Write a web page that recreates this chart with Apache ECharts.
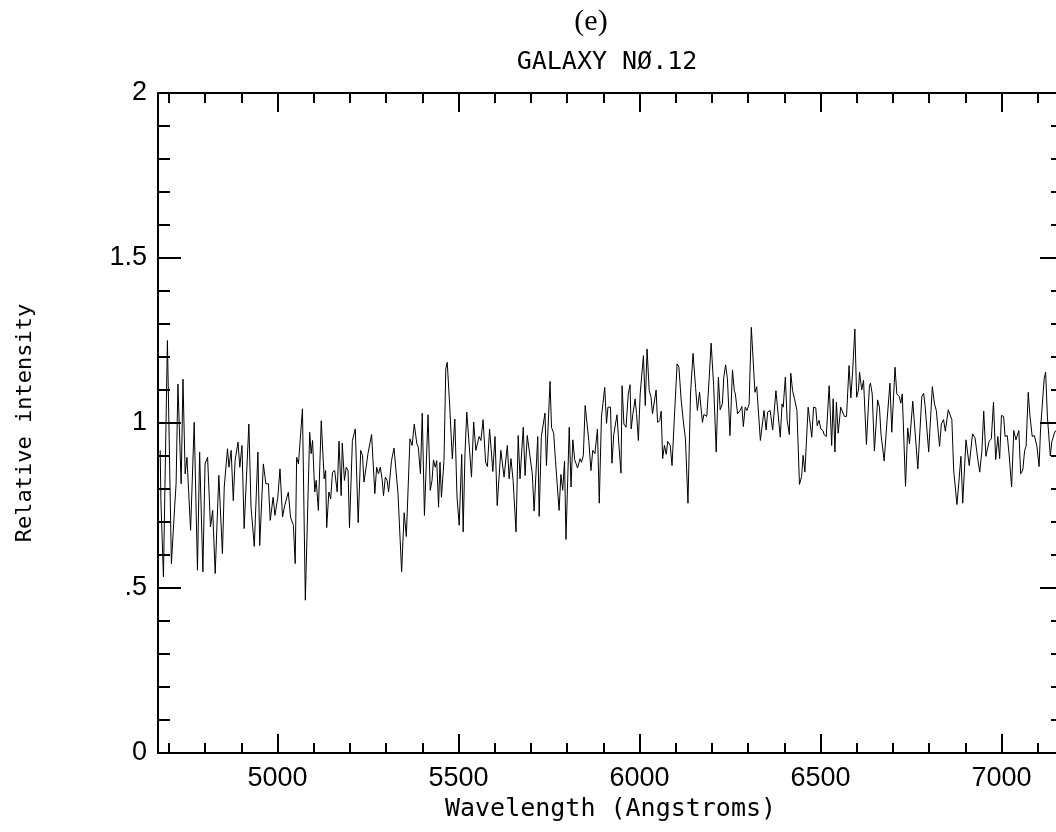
<!DOCTYPE html>
<html>
<head>
<meta charset="utf-8">
<script src="https://cdn.jsdelivr.net/npm/echarts@6/dist/echarts.min.js"></script>
<style>
  html, body { margin: 0; padding: 0; background: #fff; }
  #chart { width: 1056px; height: 832px; }
</style>
</head>
<body>
<div id="chart"></div>
<script>
// spectrum (wavelength in Angstroms, relative intensity)
const wavelength = [
  4676, 4678, 4685, 4696, 4707, 4716, 4720, 4725, 4734, 4739, 4745, 4750, 4760, 4770, 4779, 4785,
  4794, 4800, 4807, 4815, 4821, 4828, 4838, 4848, 4853, 4858, 4862, 4866, 4872, 4878, 4883, 4891,
  4896, 4902, 4908, 4912, 4921, 4927, 4936, 4946, 4951, 4961, 4968, 4975, 4980, 4988, 4993, 5001,
  5007, 5014, 5020, 5025, 5030, 5036, 5044, 5049, 5053, 5058, 5069, 5077,
  5089, 5093, 5097, 5103, 5107, 5113, 5121, 5129, 5133, 5136, 5142, 5147, 5152, 5158, 5165, 5170,
  5176, 5179, 5185, 5190, 5195, 5199, 5207, 5215, 5223, 5230, 5235, 5239, 5245, 5250, 5255, 5260,
  5269, 5274, 5279, 5284, 5289, 5293, 5298, 5303, 5307, 5315, 5322, 5333, 5343, 5350, 5356, 5366,
  5372, 5378, 5385, 5389, 5395, 5400, 5406, 5416, 5422, 5427, 5431, 5436, 5440, 5445, 5449, 5453,
  5460, 5465, 5469, 5476, 5483, 5490,
  5496, 5502, 5509, 5513, 5518, 5523, 5527, 5536, 5542, 5548, 5557, 5562, 5568, 5575, 5580, 5586,
  5595, 5601, 5607, 5610, 5617, 5626, 5635, 5640, 5645, 5651, 5659, 5665, 5670, 5679, 5684, 5690,
  5696, 5704, 5709, 5719, 5723, 5729, 5734, 5739, 5743, 5753, 5757, 5763, 5768, 5778, 5783, 5788,
  5793, 5797, 5806, 5811, 5816, 5821, 5829, 5836, 5840, 5845, 5850, 5854, 5860, 5866, 5871, 5877,
  5884, 5889, 5895,
  5904, 5909, 5913, 5920, 5924, 5929, 5934, 5938, 5943, 5949, 5952, 5957, 5963, 5969, 5974, 5977,
  5982, 5988, 5992, 5997, 6002, 6006, 6011, 6016, 6021, 6027, 6032, 6036, 6046, 6050, 6056, 6060,
  6064, 6069, 6074, 6078, 6085, 6090, 6096, 6104, 6109, 6115, 6121, 6127, 6134, 6141, 6148, 6155,
  6160, 6166, 6174, 6178, 6186, 6192, 6198, 6205, 6212, 6218, 6223, 6229, 6233, 6238, 6243, 6250,
  6257, 6262, 6265, 6271, 6278, 6283, 6287, 6292, 6297, 6303, 6305,
  6309, 6319, 6324, 6334, 6344, 6350, 6354, 6361, 6368, 6377, 6389, 6394, 6397, 6403, 6408, 6414,
  6418, 6423, 6429, 6435, 6442, 6448, 6452, 6457, 6466, 6476, 6481, 6487, 6491, 6496, 6501, 6507,
  6510, 6516, 6524, 6531, 6535, 6540, 6544, 6549, 6556, 6561, 6566, 6572, 6579, 6584, 6589, 6595,
  6600, 6605, 6608, 6614, 6619, 6627, 6635, 6638, 6643, 6649, 6658, 6663, 6667, 6672, 6676, 6684,
  6692, 6697, 6706, 6711,
  6718, 6722, 6726, 6735, 6741, 6746, 6755, 6769, 6780, 6785, 6789, 6793, 6799, 6809, 6815, 6820,
  6829, 6834, 6840, 6845, 6853, 6863, 6868, 6877, 6882, 6888, 6893, 6902, 6906, 6911, 6920, 6927,
  6935, 6940, 6946, 6951, 6957, 6962, 6966, 6972, 6978, 6984, 6990, 6995, 7000, 7006, 7010, 7016,
  7021, 7028, 7034, 7040, 7048, 7053, 7059, 7064, 7068, 7074, 7079, 7085, 7091, 7098, 7104, 7108,
  7113, 7118, 7122, 7127, 7132, 7135, 7139, 7148, 7165
];
const intensity = [
  0.917, 0.765, 0.534, 1.250, 0.574, 0.745, 0.816, 1.118, 0.816, 1.133, 0.846, 0.896, 0.675, 1.002, 0.554, 0.912,
  0.549, 0.876, 0.896, 0.685, 0.735, 0.544, 0.841, 0.604, 0.806, 0.801, 0.922, 0.866, 0.917, 0.765, 0.886, 0.942,
  0.866, 0.932, 0.680, 0.675, 0.997, 0.745, 0.626, 0.912, 0.629, 0.876, 0.816, 0.816, 0.705, 0.775, 0.720, 0.775,
  0.861, 0.715, 0.750, 0.745, 0.790, 0.715, 0.690, 0.574, 0.896, 0.876, 1.043, 0.463,
  0.972, 0.907, 0.947, 0.791, 0.826, 0.735, 1.007, 0.831, 0.856, 0.683, 0.791, 0.770, 0.851, 0.856, 0.791, 0.945,
  0.780, 0.939, 0.826, 0.866, 0.856, 0.683, 0.947, 0.982, 0.698, 0.917, 0.902, 0.821, 0.866, 0.907, 0.907, 0.965,
  0.786, 0.866, 0.846, 0.866, 0.831, 0.780, 0.836, 0.826, 0.791, 0.886, 0.924, 0.786, 0.549, 0.728, 0.656, 0.952,
  0.932, 0.997, 0.937, 0.927, 0.846, 1.030, 0.720, 1.025, 0.796, 0.826, 0.888, 0.866, 0.886, 0.745, 0.881, 0.775,
  0.886, 1.164, 1.184, 1.048, 0.891, 1.012,
  0.776, 0.690, 0.905, 0.670, 0.907, 1.033, 1.038, 0.836, 1.003, 0.917, 0.959, 0.947, 1.010, 0.881, 0.868, 0.982,
  0.853, 0.959, 0.750, 0.752, 0.917, 0.836, 0.932, 0.831, 0.892, 0.826, 0.670, 0.962, 0.831, 0.987, 0.841, 0.962,
  0.912, 0.846, 0.733, 0.959, 0.717, 0.959, 0.957, 1.030, 0.871, 1.126, 0.987, 0.969, 0.887, 0.735, 0.844, 0.796,
  0.885, 0.647, 0.987, 0.806, 0.949, 0.889, 0.864, 0.892, 0.881, 0.902, 1.053, 1.050, 0.947, 0.856, 0.917, 0.907,
  0.982, 0.757, 1.018,
  1.108, 0.999, 1.048, 1.048, 0.878, 0.965, 0.962, 1.025, 0.937, 0.848, 1.113, 0.997, 0.987, 1.088, 1.116, 0.982,
  1.028, 1.073, 1.028, 0.947, 1.088, 1.090, 1.204, 1.053, 1.224, 1.098, 1.078, 1.028, 1.100, 1.002, 1.007, 1.036,
  0.892, 0.932, 0.905, 0.944, 0.932, 0.871, 1.007, 1.179, 1.169, 1.073, 1.007, 0.952, 0.757, 1.088, 1.211, 1.108,
  1.038, 1.093, 1.002, 1.026, 1.020, 1.124, 1.242, 1.113, 0.912, 1.139, 1.040, 1.058, 1.139, 1.176, 1.134, 0.962,
  1.161, 1.098, 1.088, 1.028, 1.038, 1.050, 0.989, 1.048, 1.038, 1.058, 1.139,
  1.290, 1.093, 1.110, 0.947, 1.038, 0.979, 1.033, 1.038, 0.979, 1.098, 0.957, 1.058, 1.048, 1.139, 1.008, 0.965,
  1.151, 1.098, 1.070, 1.038, 0.814, 0.838, 0.902, 0.851, 1.048, 0.957, 1.048, 1.046, 0.992, 1.008, 0.982, 0.977,
  0.965, 0.959, 1.113, 0.932, 1.073, 0.912, 1.063, 0.969, 1.048, 1.053, 1.020, 1.020, 1.174, 1.076, 1.159, 1.285,
  1.078, 1.100, 1.154, 1.100, 1.129, 0.935, 1.108, 1.121, 1.088, 0.915, 1.070, 1.048, 0.969, 0.967, 0.885, 1.008,
  1.121, 0.972, 1.169, 1.088,
  1.080, 1.060, 1.088, 0.808, 0.985, 0.937, 1.066, 0.861, 1.080, 1.090, 1.053, 1.053, 0.912, 1.110, 1.058, 1.038,
  0.929, 0.998, 1.010, 0.975, 1.040, 1.010, 0.856, 0.753, 0.816, 0.899, 0.757, 0.949, 0.945, 0.871, 0.967, 0.955,
  0.887, 0.851, 0.917, 1.036, 0.899, 0.899, 0.945, 0.952, 1.063, 0.889, 0.959, 0.892, 1.023, 1.020, 0.959, 0.962,
  0.907, 0.806, 0.977, 0.949, 0.977, 0.846, 0.858, 0.917, 0.929, 1.093, 1.018, 0.959, 0.962, 0.929, 0.868, 0.982,
  0.987, 1.134, 1.154, 1.018, 1.016, 0.900, 0.943, 0.975, 0.980
];

const xMinorTicks = [4700, 4800, 4900, 5000, 5100, 5200, 5300, 5400, 5500, 5600, 5700, 5800, 5900,
  6000, 6100, 6200, 6300, 6400, 6500, 6600, 6700, 6800, 6900, 7000, 7100];
const xMajorTicks = [5000, 5500, 6000, 6500, 7000];
const yMinorTicks = [0.1, 0.2, 0.3, 0.4, 0.6, 0.7, 0.8, 0.9, 1.1, 1.2, 1.3, 1.4, 1.6, 1.7, 1.8, 1.9];
const yMajorTicks = [0, 0.5, 1, 1.5, 2];
const yTickLabels = ["0", ".5", "1", "1.5", "2"];

const chart = echarts.init(document.getElementById("chart"));

const black = "#000";
const numFont = "Liberation Sans";
const monoFont = "DejaVu Sans Mono";

// one axis per tick length / side (PGPLOT style box with inward ticks)
const xAx = (pos, ticks, len, showLine, labels) => ({
  type: "value",
  position: pos,
  min: 4670,
  max: 7170,
  splitLine: { show: false },
  axisLine: { show: showLine, onZero: false, lineStyle: { color: black, width: 2 } },
  axisTick: { show: true, inside: true, length: len, customValues: ticks, lineStyle: { color: black, width: 2 } },
  axisLabel: labels
    ? {
        show: true,
        customValues: labels,
        margin: 12,
        color: black,
        fontFamily: numFont,
        fontSize: 27,
        formatter: (v) => String(v),
      }
    : { show: false },
});
const yAx = (pos, ticks, len, showLine, labels) => ({
  type: "value",
  position: pos,
  min: 0,
  max: 2,
  splitLine: { show: false },
  axisLine: { show: showLine, onZero: false, lineStyle: { color: black, width: 2 } },
  axisTick: { show: true, inside: true, length: len, customValues: ticks, lineStyle: { color: black, width: 2 } },
  axisLabel: labels
    ? {
        show: true,
        customValues: labels,
        margin: 11,
        color: black,
        fontFamily: numFont,
        fontSize: 27,
        formatter: (v) => {
          const i = yMajorTicks.findIndex((t) => Math.abs(t - v) < 1e-6);
          return i >= 0 ? yTickLabels[i] : String(v);
        },
      }
    : { show: false },
});

const xBottom = xAx("bottom", xMinorTicks, 10, true, xMajorTicks);
xBottom.name = "Wavelength (Angstroms)";
xBottom.nameLocation = "middle";
xBottom.nameGap = 33;
xBottom.nameTextStyle = { color: black, fontFamily: monoFont, fontSize: 25 };

const yLeft = yAx("left", yMinorTicks, 12, true, yMajorTicks);
yLeft.name = "Relative intensity";
yLeft.nameLocation = "middle";
yLeft.nameGap = 122;
yLeft.nameTextStyle = { color: black, fontFamily: monoFont, fontSize: 22 };

const option = {
  backgroundColor: "#fff",
  animation: false,
  grid: { left: 158, top: 93, width: 905, height: 660, containLabel: false, outerBoundsMode: "none" },
  xAxis: [
    xBottom,
    xAx("bottom", xMajorTicks, 19, false, null),
    xAx("top", xMinorTicks, 10, true, null),
    xAx("top", xMajorTicks, 19, false, null),
  ],
  yAxis: [
    yLeft,
    yAx("left", yMajorTicks, 23, false, null),
    yAx("right", yMinorTicks, 12, true, null),
    yAx("right", yMajorTicks, 23, false, null),
  ],
  graphic: [
    {
      type: "text",
      x: 591,
      y: 22,
      style: { text: "(e)", font: '30px "Liberation Serif"', fill: black, textAlign: "center", textVerticalAlign: "middle" },
    },
    {
      type: "text",
      x: 607,
      y: 62,
      style: { text: "GALAXY NØ.12", font: '25px "DejaVu Sans Mono"', fill: black, textAlign: "center", textVerticalAlign: "middle" },
    },
  ],
  series: [
    {
      type: "line",
      xAxisIndex: 0,
      yAxisIndex: 0,
      showSymbol: false,
      symbol: "none",
      lineStyle: { color: black, width: 1 },
      data: wavelength.map((w, i) => [w, intensity[i]]),
    },
  ],
};
chart.setOption(option);
</script>
</body>
</html>
